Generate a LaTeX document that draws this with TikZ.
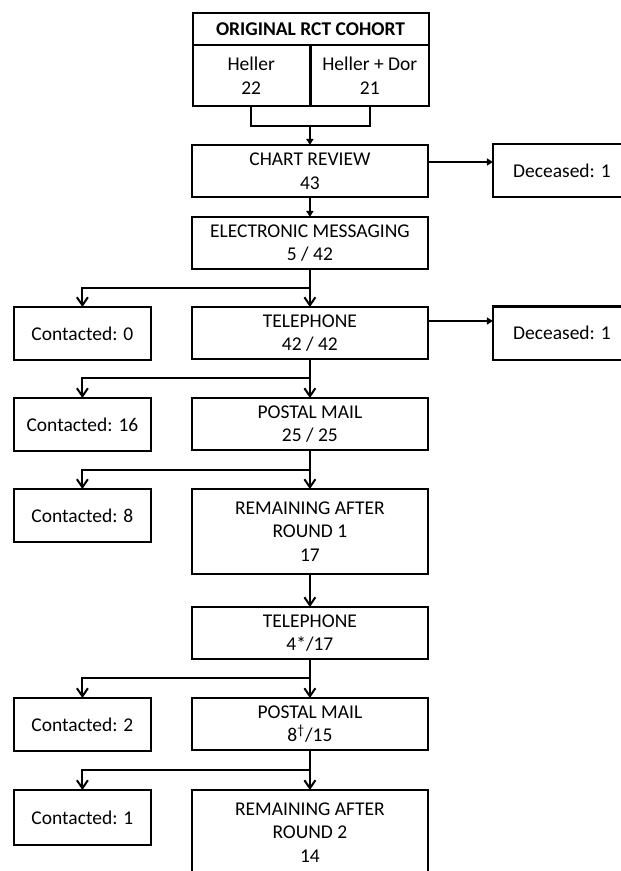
\documentclass[tikz,border=0pt]{standalone}
\usepackage{fontspec}
\setmainfont{Carlito}
\usetikzlibrary{arrows.meta,positioning}

\begin{document}
\begin{tikzpicture}[x=1pt, y=1pt, node distance=19.5pt and 20.5pt, line width=1pt,
		every node/.style={font=\fontsize{9.75pt}{11.75pt}\selectfont, align=center, outer sep=0pt},
		stage/.style={draw, minimum width=118pt, minimum height=26pt, inner sep=1pt},
		side/.style={draw, minimum width=68.5pt, minimum height=26.5pt, inner sep=1pt},
		arm/.style={draw, minimum width=58.7pt, minimum height=30.5pt, inner sep=1pt},
		bigarrow/.style={-{Straight Barb[length=4pt,width=5.5pt]}},
		smallarrow/.style={-{Triangle[length=3pt,width=3.5pt]}}]
			\useasboundingbox (0,0) rectangle (310,-435.5);

			\node[stage, minimum height=16pt, font=\fontsize{9.75pt}{11.75pt}\selectfont\bfseries] (cohort) at (155.25,-14.5) {ORIGINAL RCT COHORT};
			\node[arm, below right=0pt of cohort.south west] (heller) {Heller\\22};
			\node[arm, right=0.6pt of heller] (hdor) {Heller + Dor\\21};

			\node[stage, below=of heller.south east] (chart) {CHART REVIEW\\43};
			\node[stage, below=10pt of chart] (em) {ELECTRONIC MESSAGING\\5 / 42};
			\node[stage, below=19pt of em] (tel1) {TELEPHONE\\42 / 42};
			\node[stage, below=of tel1] (post1) {POSTAL MAIL\\25 / 25};
			\node[stage, minimum height=42.5pt, below=of post1] (rem1) {REMAINING AFTER\\ROUND 1\\17};
			\node[stage, below=16.5pt of rem1] (tel2) {TELEPHONE\\4*/17};
			\node[stage, below=of tel2] (post2) {POSTAL MAIL\\8\textsuperscript{†}/15};
			\node[stage, minimum height=42.5pt, below=20pt of post2] (rem2) {REMAINING AFTER\\ROUND 2\\14};

			\node[side, minimum width=69pt, right=32.5pt of chart] (dead1) {Deceased: 1};
			\node[side, minimum width=69pt, right=32.5pt of tel1] (dead2) {Deceased: 1};

			\node[side, left=of tel1.north west, anchor=north east] (reached0) {Contacted: 0};
			\node[side, left=of post1.north west, anchor=north east] (reached16) {Contacted: 16};
			\node[side, left=of rem1.north west, anchor=north east] (reached8) {Contacted: 8};
			\node[side, left=of post2.north west, anchor=north east] (reached2) {Contacted: 2};
			\node[side, minimum height=27.5pt, left=of rem2.north west, anchor=north east] (reached1) {Contacted: 1};

			\draw (heller.south) -- ++(0,-10) coordinate (join) -| (hdor.south);
			\draw[smallarrow] (join -| chart.north) -- (chart.north);
			\draw[smallarrow] (chart.south) -- (em.north);
			\draw[smallarrow] ([yshift=4.5pt]chart.east) -- ([yshift=4.5pt]dead1.west);
			\draw[smallarrow] ([yshift=6pt]tel1.east) -- ([yshift=6pt]dead2.west);

			\draw[bigarrow] (em.south) -- (tel1.north);
			\draw[bigarrow] ([yshift=-9.5pt]em.south) -| (reached0.north);
			\draw[bigarrow] (tel1.south) -- (post1.north);
			\draw[bigarrow] ([yshift=-9.5pt]tel1.south) -| (reached16.north);
			\draw[bigarrow] (post1.south) -- (rem1.north);
			\draw[bigarrow] ([yshift=-10pt]post1.south) -| (reached8.north);
			\draw[bigarrow] (rem1.south) -- (tel2.north);
			\draw[bigarrow] (tel2.south) -- (post2.north);
			\draw[bigarrow] ([yshift=-9.5pt]tel2.south) -| (reached2.north);
			\draw[bigarrow] (post2.south) -- (rem2.north);
			\draw[bigarrow] ([yshift=-10pt]post2.south) -| (reached1.north);
		\end{tikzpicture}
\end{document}
